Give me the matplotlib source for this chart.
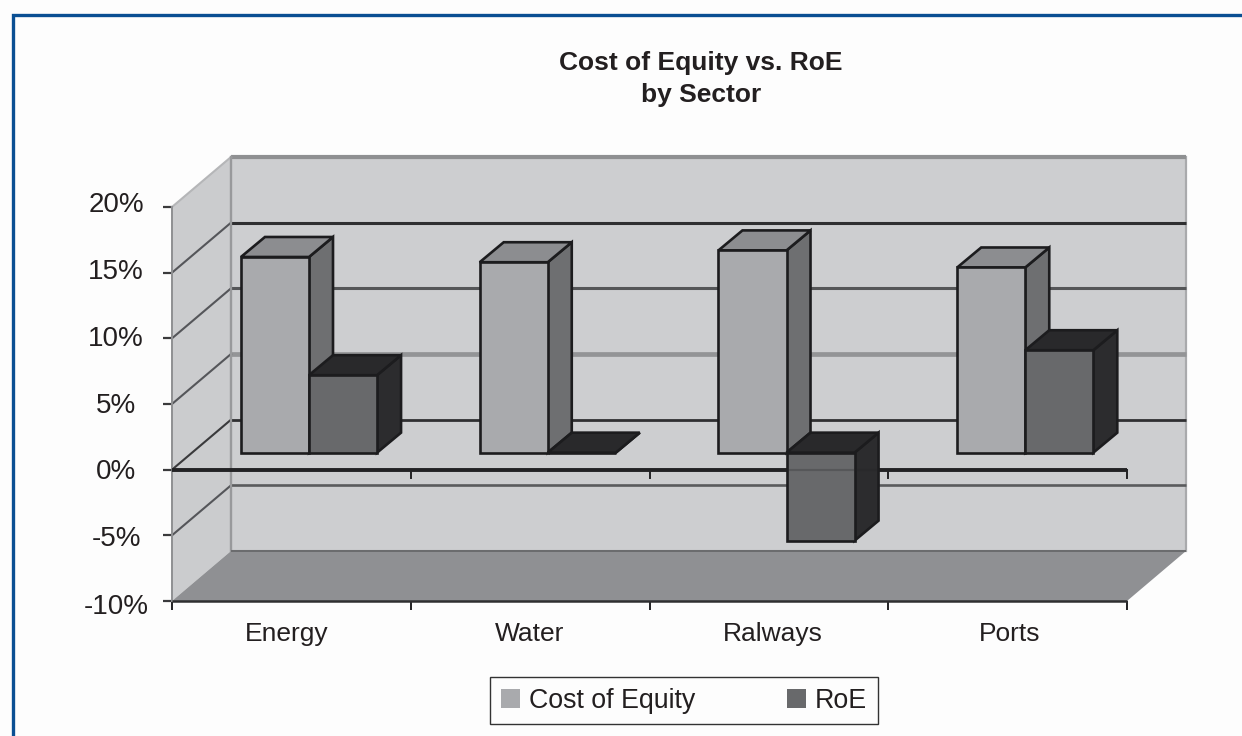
import matplotlib
matplotlib.use("Agg")
import matplotlib.pyplot as plt
from matplotlib.patches import Polygon, Patch
from matplotlib.lines import Line2D
from matplotlib.transforms import ScaledTranslation

plt.rcParams['font.family'] = ['Liberation Sans', 'DejaVu Sans']

sectors = ['Energy', 'Water', 'Ralways', 'Ports']
cost_of_equity = [14.9, 14.5, 15.4, 14.1]
roe = [5.9, 0.0, -6.7, 7.8]
y_ticks = [-10, -5, 0, 5, 10, 15, 20]
y_labels = ['-10%', '-5%', '0%', '5%', '10%', '15%', '20%']
y_label_nudge = [-3, -1, 1, 1, 2, 3.5, 5]
x_label_nudge = [-5, -1, 4, 2]
grid_levels = [-5, 0, 5, 10, 15, 20]
grid_colors = ['#5a5b5d', '#2f2f31', '#939496', '#555658', '#2f2f31', '#8f9092']
grid_widths = [1.9, 2.0, 3.4, 2.2, 2.2, 3.0]
wall_line_colors = ['#55565a', '#3a3a3c', '#55565a', '#55565a', '#55565a', '#b5b6b8']

W, H = 1242, 736
fig = plt.figure(figsize=(W / 100, H / 100), dpi=100, facecolor='#fdfdfd')
L, R, T, B = 172, 1127, 207, 601
ax = fig.add_axes([L / W, 1 - B / H, (R - L) / W, (B - T) / H])
n = len(sectors)
ax.set_xlim(0, n)
ax.set_ylim(-10, 20)
ax.patch.set_visible(False)

px = n / (R - L)
py = 30 / (B - T)


def shift(pts, ox, oy):
    return [(x + ox * px, y + oy * py) for x, y in pts]


def poly(pts, fc, ec='none', lw=0, z=2):
    ax.add_patch(Polygon(pts, closed=True, facecolor=fc, edgecolor=ec,
                         linewidth=lw, zorder=z, clip_on=False, joinstyle='miter'))


# Walls and floor
DX, DY = 59, 50
poly([(0, -10), (0, 20)] + shift([(0, 20), (0, -10)], DX, DY), '#cbccce', z=1)
poly(shift([(0, -10), (n, -10), (n, 20), (0, 20)], DX, DY), '#cdced0', ec='#a9aaac', lw=1.6, z=1)
poly([(0, -10), (n, -10)] + shift([(n, -10), (0, -10)], DX, DY), '#8f9093', z=1.5)
ax.plot([0, n], [-10, -10], color='#2f2f31', lw=1.8, zorder=1.7, clip_on=False, solid_capstyle='butt')
(fx0, fy0), (fx1, fy1) = shift([(0, -10), (n, -10)], DX, DY)
ax.plot([fx0, fx1], [fy0, fy1], color='#6a6b6d', lw=1.4, zorder=1.7, clip_on=False, solid_capstyle='butt')

# Gridlines on wall
for lev, c, lw, wc in zip(grid_levels, grid_colors, grid_widths, wall_line_colors):
    (x0, y0), (x1, y1) = shift([(0, lev), (n, lev)], DX, DY)
    ax.plot([x0, x1], [y0, y1], color=c, lw=lw, zorder=1.6, clip_on=False, solid_capstyle='butt')
    ax.plot([0, x0], [lev, y0], color=wc, lw=1.5, zorder=1.6, clip_on=False)
ax.plot([0, 0], [-10, 20], color='#8f9092', lw=1.4, zorder=1.6, clip_on=False)
ax.plot([DX * px, DX * px], [-10 + DY * py, 20 + DY * py], color='#98999b', lw=1.6, zorder=1.6, clip_on=False)

# Zero axis
ax.plot([0, n], [0, 0], color='#222224', lw=2.8, zorder=1.8, clip_on=False, solid_capstyle='butt')
ax.plot([0, n], [0, 0], color='#222224', lw=1.6, alpha=0.25, zorder=20, clip_on=False)
for i in range(1, n + 1):
    ax.plot([i, i], [0, -8 * py], color='#222224', lw=1.4, zorder=1.8, clip_on=False)


# Bars
BOX, BOY, BDX, BDY = 15, 17, 24, 20
OFFS = 0.226
WIDTH = 0.285


def bar(x0, val, front_c, top_c, side_c, z):
    x1 = x0 + WIDTH
    lo, hi = min(val, 0), max(val, 0)
    fr = shift([(x0, lo), (x1, lo), (x1, hi), (x0, hi)], BOX, BOY)
    f = dict(ec='#1c1c1e', lw=1.9, z=z)
    poly([fr[1], fr[2]] + shift([fr[2], fr[1]], BDX, BDY), side_c, **f)
    poly([fr[3], fr[2]] + shift([fr[2], fr[3]], BDX, BDY), top_c, **f)
    poly(fr, front_c, **f)


for i in range(n):
    bar(i + OFFS, cost_of_equity[i], '#a9aaad', '#8c8d90', '#6e6f71', 3 + i * 2)
    bar(i + OFFS + WIDTH, roe[i], '#68696b', '#29292b', '#2c2c2e', 3.5 + i * 2)

# Ticks and labels
ax.set_yticks(y_ticks, y_labels)
ax.set_xticks([i + 0.5 for i in range(n)], sectors)
ax.set_xticks(list(range(n + 1)), minor=True)
ax.tick_params(axis='x', which='major', length=0, pad=15, labelsize=19, labelcolor='#231f20')
ax.tick_params(axis='x', which='minor', length=6.5, width=1.4, color='#222224')
ax.tick_params(axis='y', length=6.5, width=1.6, color='#3a3a3c', pad=33.8, labelsize=20, labelcolor='#231f20')
for lab, dy in zip(ax.get_yticklabels(), y_label_nudge):
    lab.set_horizontalalignment('center')
    lab.set_transform(lab.get_transform() + ScaledTranslation(0, dy / 100, fig.dpi_scale_trans))
for lab, dx in zip(ax.get_xticklabels(), x_label_nudge):
    lab.set_transform(lab.get_transform() + ScaledTranslation(dx / 100, 0, fig.dpi_scale_trans))
for s in ax.spines.values():
    s.set_visible(False)

# Title
fig.text(701 / W, 1 - 79 / H, 'Cost of Equity vs. RoE\nby Sector', ha='center', va='center',
         fontsize=19, fontweight='bold', color='#231f20', linespacing=1.4)

# Legend
handles = [Patch(facecolor='#a9aaad', label='Cost of Equity'), Patch(facecolor='#68696b', label='RoE')]
leg = ax.legend(handles=handles, ncol=2, loc='center', bbox_to_anchor=(684 / W, 1 - 700.5 / H),
                bbox_transform=fig.transFigure, fontsize=19.3, frameon=True, fancybox=False,
                edgecolor='#333333', facecolor='#fdfdfd', framealpha=1, handlelength=0.7,
                handleheight=0.7, handletextpad=0.33, columnspacing=3.44, borderpad=0.4, labelcolor='#231f20')
leg.get_frame().set_linewidth(1.0)

# Blue frame
blue = '#0a4f93'
fig.add_artist(Line2D([12.5 / W, 12.5 / W, 1], [0, 1 - 14.5 / H, 1 - 14.5 / H], color=blue, lw=2.4,
                      transform=fig.transFigure, solid_joinstyle='miter'))

fig.savefig('out.png', dpi=100, facecolor=fig.get_facecolor())
